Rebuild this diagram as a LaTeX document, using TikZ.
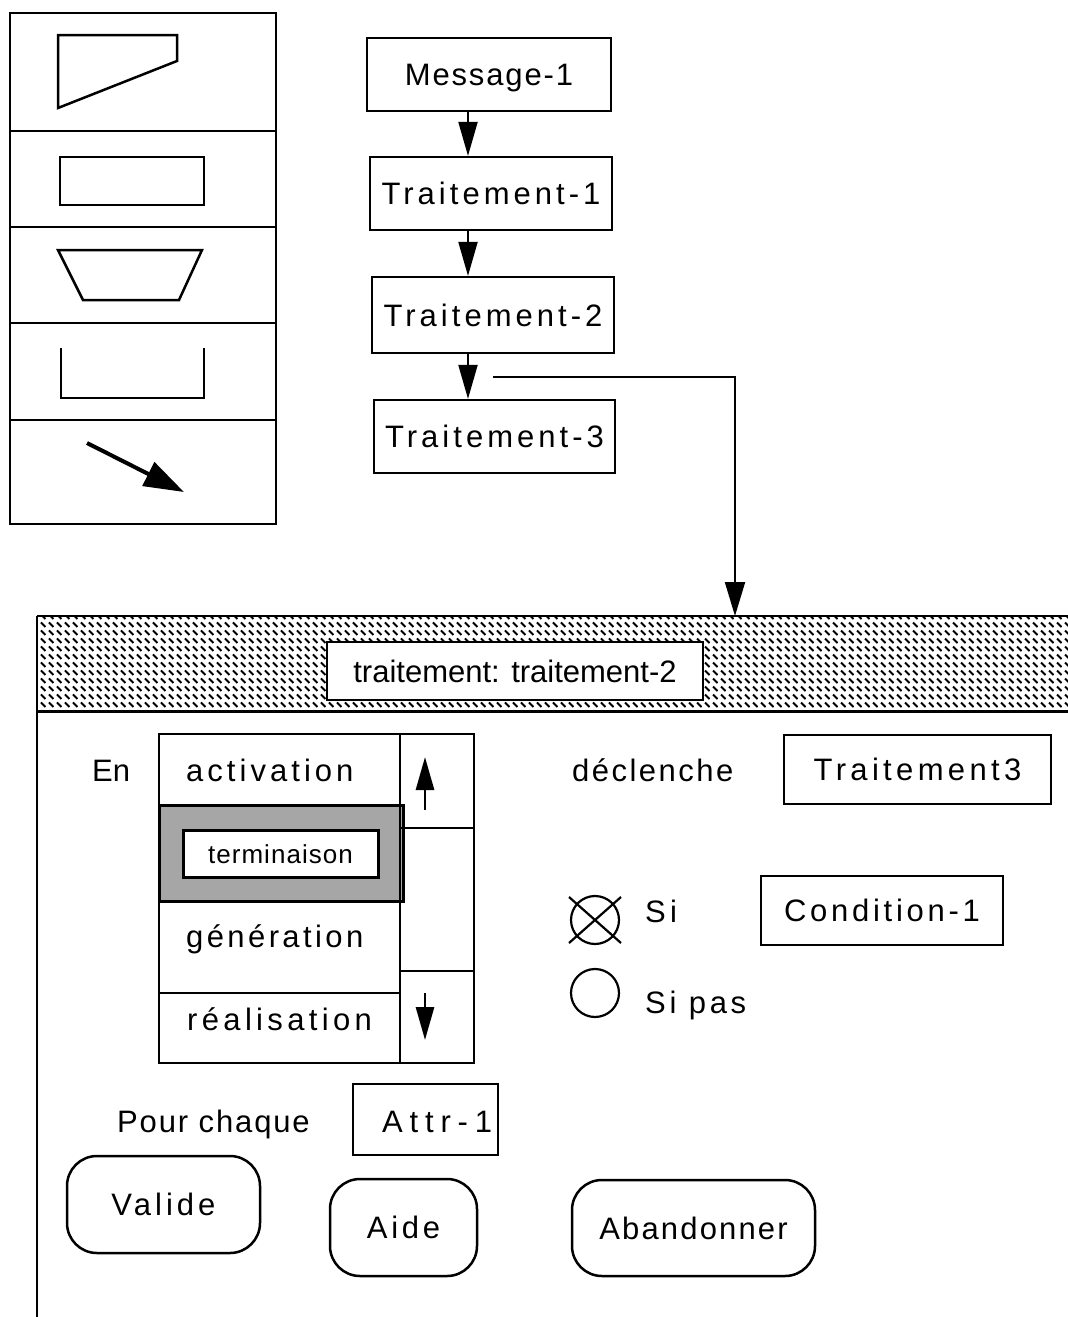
\documentclass[tikz,border=0pt]{standalone}
\usepackage{fontspec}
\setmainfont{Liberation Sans}
\usetikzlibrary{arrows.meta,patterns}

% short diagonal strokes used for the window title bar
\pgfdeclarepatternformonly{dashhatch}{\pgfqpoint{-1pt}{-1pt}}{\pgfqpoint{9pt}{9pt}}{\pgfqpoint{8pt}{8pt}}{%
  \pgfsetlinewidth{1.9pt}\pgfsetbuttcap
  \pgfpathmoveto{\pgfqpoint{1pt}{6.5pt}}\pgfpathlineto{\pgfqpoint{5.5pt}{2pt}}\pgfusepath{stroke}}

\begin{document}
\begin{tikzpicture}[x=1pt,y=-1pt,
  txt/.style={font=\fontsize{31}{31}\selectfont\addfontfeature{LetterSpace=#1}},
  txt/.default=10,
  small/.style={font=\fontsize{26}{26}\selectfont\addfontfeature{LetterSpace=#1}},
  small/.default=4,
  lbl/.style={inner sep=0pt, anchor=base west},
  box/.style={draw, line width=2.2pt, fill=white, inner sep=0pt, text height=22pt, text depth=0pt},
  flow/.style={line width=2pt, -{Triangle[length=34pt,width=19pt]}},
  scroll/.style={line width=2.8pt, -{Triangle[length=33pt,width=18pt]}},
  button/.style={draw, line width=2.5pt, rounded corners=30pt, inner sep=0pt, text height=22pt, text depth=0pt},
  cell/.style={draw, line width=2pt, inner sep=0pt, anchor=north west},
  pal/.style={line width=2.5pt, line join=miter},
  radio/.style={circle, draw, line width=2.2pt, minimum size=48pt, inner sep=0pt},
]
\useasboundingbox (0,0) rectangle (1068,1317);
\clip (0,0) rectangle (1068,1317);

% ---- tool palette ----
\draw[pal] (10,13) rectangle (276,524);
\foreach \y in {131,227,323,420} \draw[pal] (10,\y) -- (276,\y);
\draw[pal] (58,35) -- (177,35) -- (177,61) -- (58,108) -- cycle;
\draw[pal] (60,157) rectangle (204,205);
\draw[pal] (58,250) -- (202,250) -- (179,300) -- (83,300) -- cycle;
\draw[pal] (61,348) -- (61,398) -- (204,398) -- (204,348);
\draw[line width=4pt, -{Triangle[length=40pt,width=26pt]}] (87,443) -- (184,492);

% ---- message / processing chain ----
\node[box, txt=6,  minimum width=244pt, minimum height=73pt] (m1) at (489,74.5)  {Message-1};
\node[box, txt=13, minimum width=242pt, minimum height=73pt] (t1) at (491,193.5) {Traitement-1};
\node[box, txt=13, minimum width=242pt, minimum height=76pt] (t2) at (493,315)   {Traitement-2};
\node[box, txt=13, minimum width=241pt, minimum height=73pt] (t3) at (494.5,436.5) {Traitement-3};
\coordinate (ax) at (468,0);
\draw[flow] (m1.south -| ax) -- (t1.north -| ax);
\draw[flow] (t1.south -| ax) -- (t2.north -| ax);
\draw[flow] (t2.south -| ax) -- (t3.north -| ax);

% ---- dialog window ----
\node[pattern=dashhatch, minimum width=1040pt, minimum height=95pt, inner sep=0pt, anchor=north west] (bar) at (37,616) {};
\draw[line width=2.5pt] (bar.north west) -- (bar.north east);
\draw[line width=3pt] (bar.south west) -- (bar.south east);
\draw[line width=2.5pt] (bar.north west) -- ++(0,705);
\node[box, line width=2.5pt, txt=0, minimum width=376pt, minimum height=58pt] (title) at (515,671) {traitement: traitement-2};

\coordinate (c0) at (493,377);
\coordinate (bend) at (735,377);
\draw[line width=2pt, -{Triangle[length=34pt,width=20pt]}] (c0) -| (bar.north -| bend);

% event list with scroll bar
\node[lbl, txt=0] (en) at (92,781) {En};
\node[cell, minimum width=241pt, minimum height=71pt] (act) at (158,733) {};
\node[cell, minimum width=241pt, minimum height=92pt] (gen) at (158,900) {};
\node[cell, minimum width=241pt, minimum height=70pt] (real) at (158,992) {};
\node[cell, line width=2.5pt, fill=black!35, minimum width=244pt, minimum height=96pt] (term) at (158,804) {};
\node[draw, line width=3pt, fill=white, inner sep=0pt, minimum width=195pt, minimum height=47pt, small, text height=19pt, text depth=0pt] (termbox) at (280.5,853.5) {terminaison};
\node[lbl, txt=13] at (186,781) {activation};
\node[lbl, txt=11] at (186,947) {génération};
\node[lbl, txt=14] at (187,1030) {réalisation};

\node[cell, minimum width=74pt, minimum height=94pt] (sup) at (399,733) {};
\node[cell, minimum width=74pt, minimum height=143pt] (smid) at (399,827) {};
\node[cell, minimum width=74pt, minimum height=92pt] (sdown) at (399,970) {};
\draw[scroll] (425,810) -- (425,757);
\draw[scroll] (425,993) -- (425,1040);

% triggered processing and condition
\node[lbl, txt=8] (decl) at (572,781) {déclenche};
\node[box, txt=14, minimum width=267pt, minimum height=69pt] (t3ref) at (917.5,769.5) {Traitement3};

\node[radio] (r1) at (595,920) {};
\draw[line width=2.2pt] ([shift={(-26pt,-23pt)}]r1.center) -- ([shift={(26pt,23pt)}]r1.center);
\draw[line width=2.2pt] ([shift={(-26pt,23pt)}]r1.center) -- ([shift={(26pt,-23pt)}]r1.center);
\node[lbl, txt=14] (si) at (645,922) {Si};
\node[box, txt=12, minimum width=242pt, minimum height=69pt] (cond) at (882,910.5) {Condition-1};

\node[radio] (r2) at (595,993) {};
\node[lbl, txt=12] (sipas) at (645,1013) {Si pas};

% iteration attribute
\node[lbl, txt=6] (pour) at (117,1132) {Pour chaque};
\node[box, minimum width=145pt, minimum height=71pt] (attr) at (425.5,1119.5) {};
\node[lbl, txt=22] (attrtxt) at (382,1132) {Attr-1};

% buttons
\node[button, txt=13, minimum width=193pt, minimum height=97pt] (valide) at (163.5,1204.5) {Valide};
\node[button, txt=12, minimum width=147pt, minimum height=97pt] (aide) at (403.5,1227.5) {Aide};
\node[button, txt=7,  minimum width=243pt, minimum height=96pt] (aband) at (693.5,1228) {Abandonner};
\end{tikzpicture}
\end{document}
